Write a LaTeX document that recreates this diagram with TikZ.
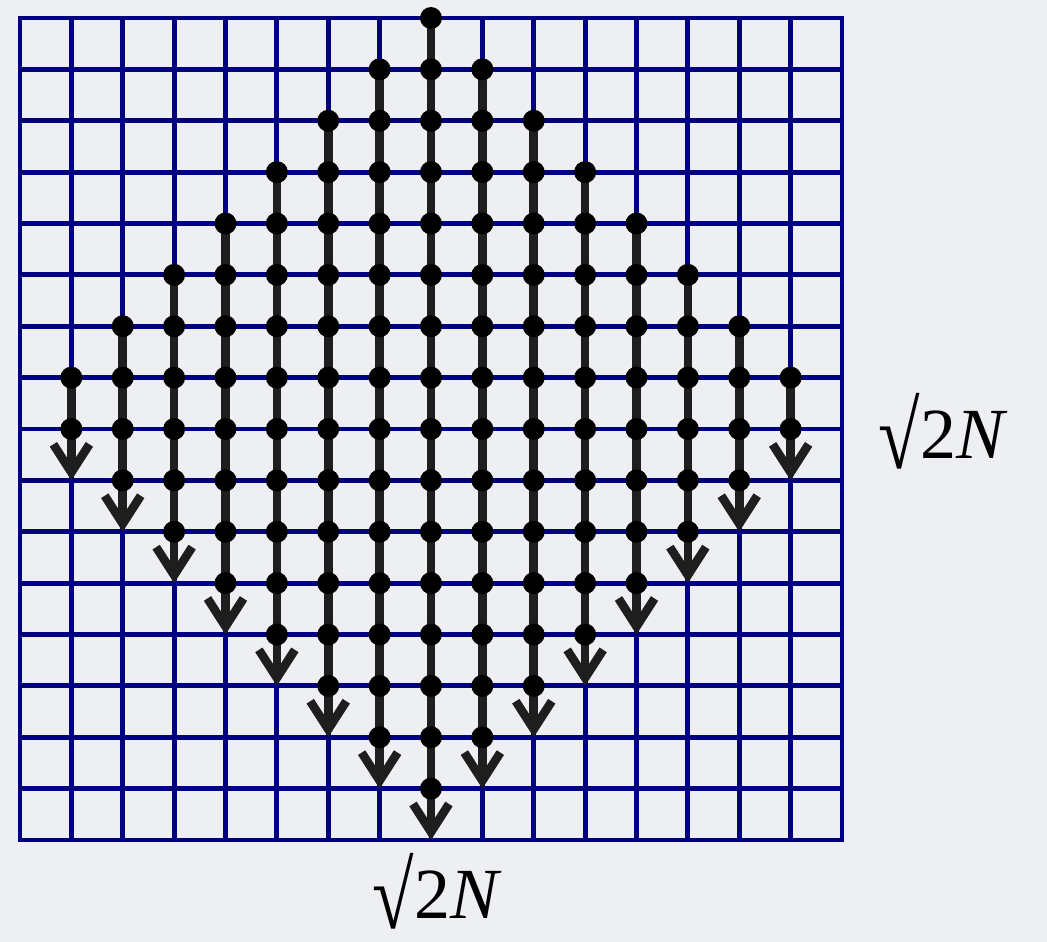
\documentclass[tikz,border=0pt]{standalone}
\usepackage{fontspec}
\setmainfont{Liberation Serif}
\usetikzlibrary{arrows.meta}
\definecolor{bgc}{RGB}{238,239,243}
\definecolor{gridblue}{RGB}{0,0,128}
\definecolor{stemc}{RGB}{30,30,30}
\pgfdeclarelayer{bglayer}
\pgfdeclarelayer{midlayer}
\pgfsetlayers{bglayer,midlayer,main}
\newcommand{\myrad}{\raisebox{-0.14em}[0.8em][0pt]{\scalebox{1.05}[1.32]{√}}}
\begin{document}
\begin{tikzpicture}[x=0.75pt,y=-0.75pt,
  gridline/.style={draw=gridblue,line width=3.6pt,line cap=rect},
  stemline/.style={draw=stemc,line width=6.5pt,-{Straight Barb[length=21pt,width=27pt]}},
  dot/.style={circle,fill=black,inner sep=0pt,minimum size=16.5pt},
  lab/.style={font=\fontsize{54}{60}\selectfont,inner sep=0pt}]
\useasboundingbox (0,0) rectangle (1047,942);
\begin{pgfonlayer}{bglayer}
  \fill[bgc] (0,0) rectangle (1047,942);
  \foreach \i in {0,...,16}{
    \draw[gridline] ({20+51.375*\i},18) -- ({20+51.375*\i},840);
    \draw[gridline] (20,{18+51.375*\i}) -- (842,{18+51.375*\i});
  }
\end{pgfonlayer}
\foreach \k in {1,...,15}{
  \pgfmathtruncatemacro\d{abs(\k-8)}
  \pgfmathtruncatemacro\last{15-\d}
  \pgfmathtruncatemacro\tip{16-\d}
  \coordinate (end-\k) at ({20+51.375*\k},{18+51.375*\tip});
  \foreach \r in {\d,...,\last}{
    \node[dot] (d-\k-\r) at ({20+51.375*\k},{18+51.375*\r}) {};
  }
  \begin{pgfonlayer}{midlayer}
    \draw[stemline] (d-\k-\d.center) -- (end-\k);
  \end{pgfonlayer}
}
\node[lab,anchor=base] (labright) at (943,458) {\myrad2\textit{N}};
\node[lab,anchor=base] (labbottom) at (437,918) {\myrad2\textit{N}};
\end{tikzpicture}
\end{document}
